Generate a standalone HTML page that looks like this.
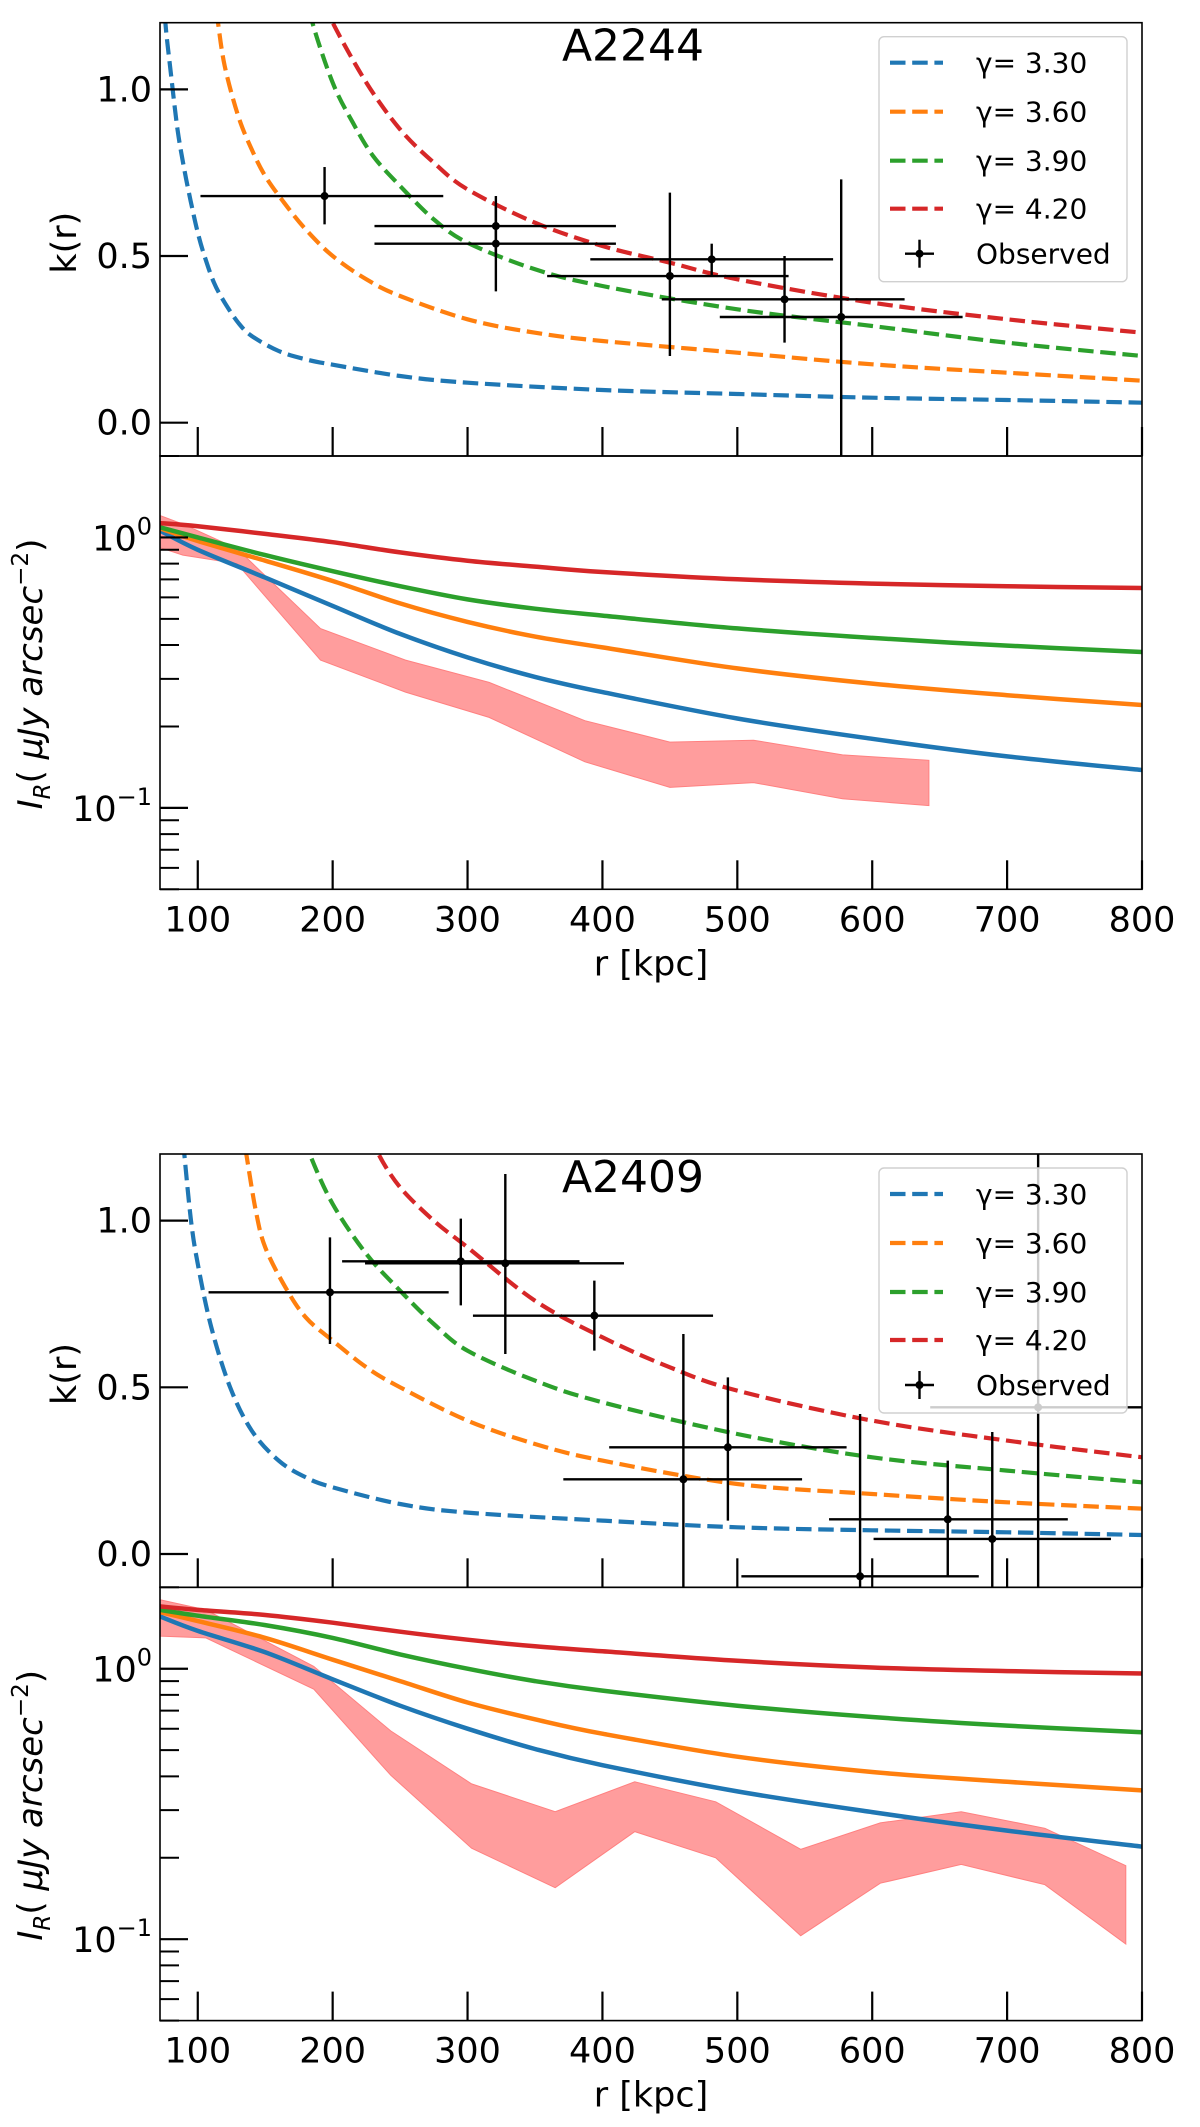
<!DOCTYPE html>
<html><head><meta charset="utf-8">
<style>
html,body{margin:0;padding:0;background:#fff;}
svg{display:block;font-family:"DejaVu Sans","Liberation Sans",sans-serif;}
</style></head>
<body>
<svg id="chart" width="1200" height="2127" viewBox="0 0 1200 2127" xmlns="http://www.w3.org/2000/svg"></svg>
<script>
// ---------- data ----------
const xTicks = [100,200,300,400,500,600,700,800];
const kTicks = [0.0,0.5,1.0];
const kTickLabels = ["0.0","0.5","1.0"];
const gammaLabels = ["γ= 3.30","γ= 3.60","γ= 3.90","γ= 4.20"];
const colors = ["#1f77b4","#ff7f0e","#2ca02c","#d62728"];

// A2244 k(r) model curves
const a_blue_r = [74,76,80,85,90,95,100,105,112,120,130,140,160,180,200,250,300,400,500,600,700,800];
const a_blue_k = [1.35,1.2,1.05,0.88,0.76,0.66,0.57,0.5,0.42,0.36,0.3,0.26,0.215,0.19,0.174,0.14,0.12,0.098,0.086,0.075,0.068,0.06];
const a_orange_r = [112,115,120,130,140,150,164,180,200,225,250,300,350,400,500,600,700,800];
const a_orange_k = [1.3,1.2,1.07,0.92,0.82,0.74,0.66,0.58,0.5,0.43,0.38,0.31,0.27,0.245,0.21,0.175,0.15,0.126];
const a_green_r = [180,185,200,215,230,250,275,300,350,400,500,600,700,800];
const a_green_k = [1.3,1.2,1.02,0.9,0.8,0.71,0.61,0.54,0.46,0.41,0.34,0.29,0.24,0.2];
const a_red_r = [195,200,225,250,275,300,350,400,450,500,600,700,800];
const a_red_k = [1.26,1.2,1.02,0.88,0.78,0.7,0.6,0.53,0.48,0.43,0.36,0.31,0.27];
// A2244 observed points
const a_obs_r = [194,321,321,450,481,535,577];
const a_obs_k = [0.68,0.59,0.537,0.44,0.49,0.37,0.317];
const a_obs_rlo = [102,231,231,359,391,444,487];
const a_obs_rhi = [282,410,410,538,571,624,667];
const a_obs_klo = [0.595,0.5,0.394,0.2,0.438,0.24,-0.1];
const a_obs_khi = [0.767,0.68,0.65,0.69,0.537,0.5,0.73];
// A2244 surface brightness model curves
const a_I_r = [72,100,150,200,250,300,350,400,500,600,700,800];
const a_I_red = [1.13,1.1,1.03,0.96,0.88,0.82,0.78,0.745,0.70,0.675,0.66,0.65];
const a_I_green = [1.09,1.0,0.86,0.75,0.66,0.59,0.545,0.514,0.461,0.425,0.398,0.377];
const a_I_orange = [1.08,0.97,0.82,0.69,0.57,0.487,0.43,0.392,0.328,0.288,0.261,0.24];
const a_I_blue = [1.06,0.9,0.71,0.558,0.44,0.36,0.305,0.268,0.214,0.18,0.155,0.138];
// A2244 observed band
const a_band_r = [71,89,129,191,254,316,387,450,512,578,642];
const a_band_hi = [1.21,1.12,0.91,0.46,0.352,0.291,0.21,0.175,0.178,0.157,0.15];
const a_band_lo = [0.92,0.86,0.8,0.352,0.268,0.216,0.148,0.119,0.124,0.108,0.102];

// A2409 k(r) model curves
const b_blue_r = [88,90,95,100,110,124,140,160,180,200,250,300,400,500,600,700,800];
const b_blue_k = [1.3,1.2,1.0,0.87,0.68,0.5,0.37,0.28,0.23,0.2,0.15,0.124,0.1,0.08,0.071,0.065,0.057];
const b_orange_r = [133,136,143,150,165,180,200,225,250,300,350,400,500,600,700,800];
const b_orange_k = [1.28,1.2,1.03,0.92,0.8,0.71,0.64,0.56,0.5,0.4,0.33,0.28,0.21,0.18,0.155,0.136];
const b_green_r = [180,183,200,225,250,275,300,350,400,500,600,700,800];
const b_green_k = [1.25,1.2,1.05,0.9,0.79,0.69,0.61,0.52,0.455,0.36,0.29,0.25,0.215];
const b_red_r = [230,234,250,275,300,350,400,450,500,600,700,800];
const b_red_k = [1.26,1.2,1.1,1.0,0.92,0.76,0.65,0.56,0.49,0.4,0.34,0.29];
// A2409 observed points
const b_obs_r = [198,295,328,394,460,493,591,656,689,723];
const b_obs_k = [0.785,0.878,0.872,0.715,0.224,0.32,-0.067,0.104,0.045,0.44];
const b_obs_rlo = [108,207,224,304,371,405,503,568,601,643];
const b_obs_rhi = [286,383,416,482,548,581,679,745,777,820];
const b_obs_klo = [0.63,0.746,0.60,0.61,-0.1,0.10,-0.1,-0.07,-0.1,-0.1];
const b_obs_khi = [0.95,1.006,1.14,0.82,0.66,0.53,0.42,0.28,0.366,1.2];
// A2409 surface brightness model curves
const b_I_r = [72,100,150,200,250,300,350,400,500,600,700,800];
const b_I_red = [1.70,1.65,1.58,1.48,1.37,1.28,1.21,1.16,1.07,1.01,0.98,0.96];
const b_I_green = [1.65,1.57,1.45,1.30,1.13,1.0,0.9,0.83,0.73,0.663,0.616,0.582];
const b_I_orange = [1.62,1.5,1.30,1.08,0.9,0.75,0.65,0.575,0.473,0.415,0.382,0.355];
const b_I_blue = [1.56,1.38,1.15,0.914,0.73,0.6,0.505,0.44,0.352,0.295,0.252,0.22];
// A2409 observed band
const b_band_r = [72,106,186,243,303,365,424,484,547,606,666,728,788];
const b_band_hi = [1.80,1.65,1.02,0.589,0.375,0.296,0.382,0.322,0.215,0.269,0.296,0.257,0.187];
const b_band_lo = [1.32,1.30,0.84,0.404,0.217,0.155,0.25,0.20,0.103,0.161,0.189,0.159,0.096];

// ---------- layout ----------
const svg = document.getElementById('chart');
const NS = 'http://www.w3.org/2000/svg';
const XL = 160, XR = 1142, XMIN = 72, XMAX = 800;
const PH = 433.3;
function el(tag, attrs, parent){
  const e = document.createElementNS(NS, tag);
  for (const k in attrs) e.setAttribute(k, attrs[k]);
  (parent||svg).appendChild(e);
  return e;
}
function sx(r){ return XL + (r - XMIN) / (XMAX - XMIN) * (XR - XL); }
function smoothPath(pts){
  if (pts.length < 2) return '';
  let d = 'M' + pts[0][0].toFixed(1) + ',' + pts[0][1].toFixed(1);
  for (let i = 0; i < pts.length - 1; i++){
    const p0 = pts[Math.max(0,i-1)], p1 = pts[i], p2 = pts[i+1], p3 = pts[Math.min(pts.length-1,i+2)];
    const c1x = p1[0] + (p2[0]-p0[0])/6, c1y = p1[1] + (p2[1]-p0[1])/6;
    const c2x = p2[0] - (p3[0]-p1[0])/6, c2y = p2[1] - (p3[1]-p1[1])/6;
    d += ' C' + c1x.toFixed(1)+','+c1y.toFixed(1)+' '+c2x.toFixed(1)+','+c2y.toFixed(1)+' '+p2[0].toFixed(1)+','+p2[1].toFixed(1);
  }
  return d;
}

function drawFigure(idx, top, title, kCurves, obs, ICurves, band){
  const kTop = top, kBot = top + PH, iTop = kBot, iBot = kBot + PH;
  const ky = v => kTop + (1.2 - v) / 1.3 * PH;
  const LMIN = Math.log10(0.05), LMAX = Math.log10(2);
  const iy = v => iTop + (LMAX - Math.log10(v)) / (LMAX - LMIN) * PH;

  const g = el('g', {});
  
  

  const defs = el('defs', {}, g);
  const c1 = el('clipPath', {id:'ck'+idx}, defs);
  el('rect', {x:XL, y:kTop, width:XR-XL, height:PH}, c1);
  const c2 = el('clipPath', {id:'ci'+idx}, defs);
  el('rect', {x:XL, y:iTop, width:XR-XL, height:PH}, c2);

  const gk = el('g', {'clip-path':'url(#ck'+idx+')'}, g);
  
  
  kCurves.forEach((c, i) => {
    const pts = c[0].map((r, j) => [sx(r), ky(c[1][j])]);
    const p = el('path', {d:smoothPath(pts), fill:'none', stroke:colors[i], 'stroke-width':4.2, 'stroke-dasharray':'15.5,6.7'}, gk);
    
    
  });
  obs.r.forEach((r, j) => {
    const eg = el('g', {stroke:'#000', 'stroke-width':2.4}, gk);
    
    
    el('line', {x1:sx(obs.rlo[j]), x2:sx(obs.rhi[j]), y1:ky(obs.k[j]), y2:ky(obs.k[j])}, eg);
    el('line', {x1:sx(r), x2:sx(r), y1:ky(obs.klo[j]), y2:ky(obs.khi[j])}, eg);
    el('circle', {cx:sx(r), cy:ky(obs.k[j]), r:4, fill:'#000', stroke:'none'}, eg);
  });

  const gi = el('g', {'clip-path':'url(#ci'+idx+')'}, g);
  
  
  const up = band.r.map((r, j) => [sx(r), iy(band.hi[j])]);
  const lo = band.r.map((r, j) => [sx(r), iy(band.lo[j])]).reverse();
  const bp = el('polygon', {points: up.concat(lo).map(p => p[0].toFixed(1)+','+p[1].toFixed(1)).join(' '), fill:'#ff9d9d', stroke:'#ff8080', 'stroke-width':1}, gi);
  
  
  ICurves.forEach((vals, i) => {
    const pts = ICurves.r.map((r, j) => [sx(r), iy(vals[j])]);
    const p = el('path', {d:smoothPath(pts), fill:'none', stroke:colors[i], 'stroke-width':4.5}, gi);
    
    
  });

  const fr1 = el('rect', {x:XL, y:kTop, width:XR-XL, height:PH, fill:'none', stroke:'#000', 'stroke-width':1.6}, g);
  
  
  const fr2 = el('rect', {x:XL, y:iTop, width:XR-XL, height:PH, fill:'none', stroke:'#000', 'stroke-width':1.6}, g);
  
  

  xTicks.forEach(t => {
    el('line', {x1:sx(t), x2:sx(t), y1:kBot, y2:kBot-29, stroke:'#000', 'stroke-width':2.2}, g);
    el('line', {x1:sx(t), x2:sx(t), y1:iBot, y2:iBot-29, stroke:'#000', 'stroke-width':2.2}, g);
    const tl = el('text', {x:sx(t), y:iBot+42, 'font-size':35, 'text-anchor':'middle', fill:'#000'}, g);
    tl.textContent = t;
    
    
  });
  const xt = el('text', {x:(XL+XR)/2, y:iBot+86, 'font-size':35, 'text-anchor':'middle', fill:'#000'}, g);
  xt.textContent = 'r [kpc]';
  
  

  kTicks.forEach((t, i) => {
    el('line', {x1:XL, x2:XL+28, y1:ky(t), y2:ky(t), stroke:'#000', 'stroke-width':2.2}, g);
    const tl = el('text', {x:XL-8, y:ky(t)+12, 'font-size':35, 'text-anchor':'end', fill:'#000'}, g);
    tl.textContent = kTickLabels[i];
    
    
  });
  const kl = el('text', {x:0, y:0, 'font-size':35, 'text-anchor':'middle', fill:'#000', transform:'translate(76,'+(kTop+220)+') rotate(-90)'}, g);
  kl.textContent = 'k(r)';
  
  

  [0.1, 1].forEach((t, i) => {
    el('line', {x1:XL, x2:XL+28, y1:iy(t), y2:iy(t), stroke:'#000', 'stroke-width':2.2}, g);
    const tl = el('text', {x:XL-8, y:iy(t)+13, 'font-size':35, 'text-anchor':'end', fill:'#000'}, g);
    
    
    tl.innerHTML = '10<tspan font-size="24" dy="-16">' + (i === 0 ? '−1' : '0') + '</tspan>';
  });
  [0.05,0.06,0.07,0.08,0.09,0.2,0.3,0.4,0.5,0.6,0.7,0.8,0.9,2].forEach(t => {
    el('line', {x1:XL, x2:XL+19, y1:iy(t), y2:iy(t), stroke:'#000', 'stroke-width':2}, g);
  });
  const il = el('text', {x:0, y:0, 'font-size':34, 'text-anchor':'middle', fill:'#000', transform:'translate(42,'+(iTop+218)+') rotate(-90)'}, g);
  
  
  il.innerHTML = '<tspan font-style="italic">I</tspan><tspan font-style="italic" font-size="23" dy="8">R</tspan><tspan dy="-8">( </tspan><tspan font-style="italic">μJy arcsec</tspan><tspan font-size="23" dy="-14">−2</tspan><tspan dy="14">)</tspan>';

  const tt = el('text', {x:633, y:top+38, 'font-size':44, 'text-anchor':'middle', fill:'#000'}, g);
  tt.textContent = title;
  
  

  const lg = el('g', {}, g);
  
  
  el('rect', {x:879, y:top+14, width:248, height:245, rx:5, fill:'#fff', 'fill-opacity':0.8, stroke:'#d0d0d0', 'stroke-width':1.4}, lg);
  const ly = [40, 89, 138, 186, 231];
  gammaLabels.forEach((lab, i) => {
    const e = el('g', {}, lg);
    
    
    el('line', {x1:890, x2:943, y1:top+ly[i], y2:top+ly[i], stroke:colors[i], 'stroke-width':4.2, 'stroke-dasharray':'15.5,6.7'}, e);
    const t = el('text', {x:976, y:top+ly[i]+10, 'font-size':28, fill:'#000'}, e);
    t.textContent = lab;
  });
  const oe = el('g', {}, lg);
  
  
  el('line', {x1:905, x2:934, y1:top+ly[4], y2:top+ly[4], stroke:'#000', 'stroke-width':2.4}, oe);
  el('line', {x1:919.5, x2:919.5, y1:top+ly[4]-14, y2:top+ly[4]+14, stroke:'#000', 'stroke-width':2.4}, oe);
  el('circle', {cx:919.5, cy:top+ly[4], r:4, fill:'#000'}, oe);
  const ot = el('text', {x:976, y:top+ly[4]+10, 'font-size':28, fill:'#000'}, oe);
  ot.textContent = 'Observed';
}

const aI = [a_I_blue, a_I_orange, a_I_green, a_I_red]; aI.r = a_I_r;
const bI = [b_I_blue, b_I_orange, b_I_green, b_I_red]; bI.r = b_I_r;
drawFigure(1, 22.7, 'A2244',
  [[a_blue_r,a_blue_k],[a_orange_r,a_orange_k],[a_green_r,a_green_k],[a_red_r,a_red_k]],
  {r:a_obs_r, k:a_obs_k, rlo:a_obs_rlo, rhi:a_obs_rhi, klo:a_obs_klo, khi:a_obs_khi},
  aI, {r:a_band_r, hi:a_band_hi, lo:a_band_lo});
drawFigure(2, 1154, 'A2409',
  [[b_blue_r,b_blue_k],[b_orange_r,b_orange_k],[b_green_r,b_green_k],[b_red_r,b_red_k]],
  {r:b_obs_r, k:b_obs_k, rlo:b_obs_rlo, rhi:b_obs_rhi, klo:b_obs_klo, khi:b_obs_khi},
  bI, {r:b_band_r, hi:b_band_hi, lo:b_band_lo});
</script>
</body></html>
